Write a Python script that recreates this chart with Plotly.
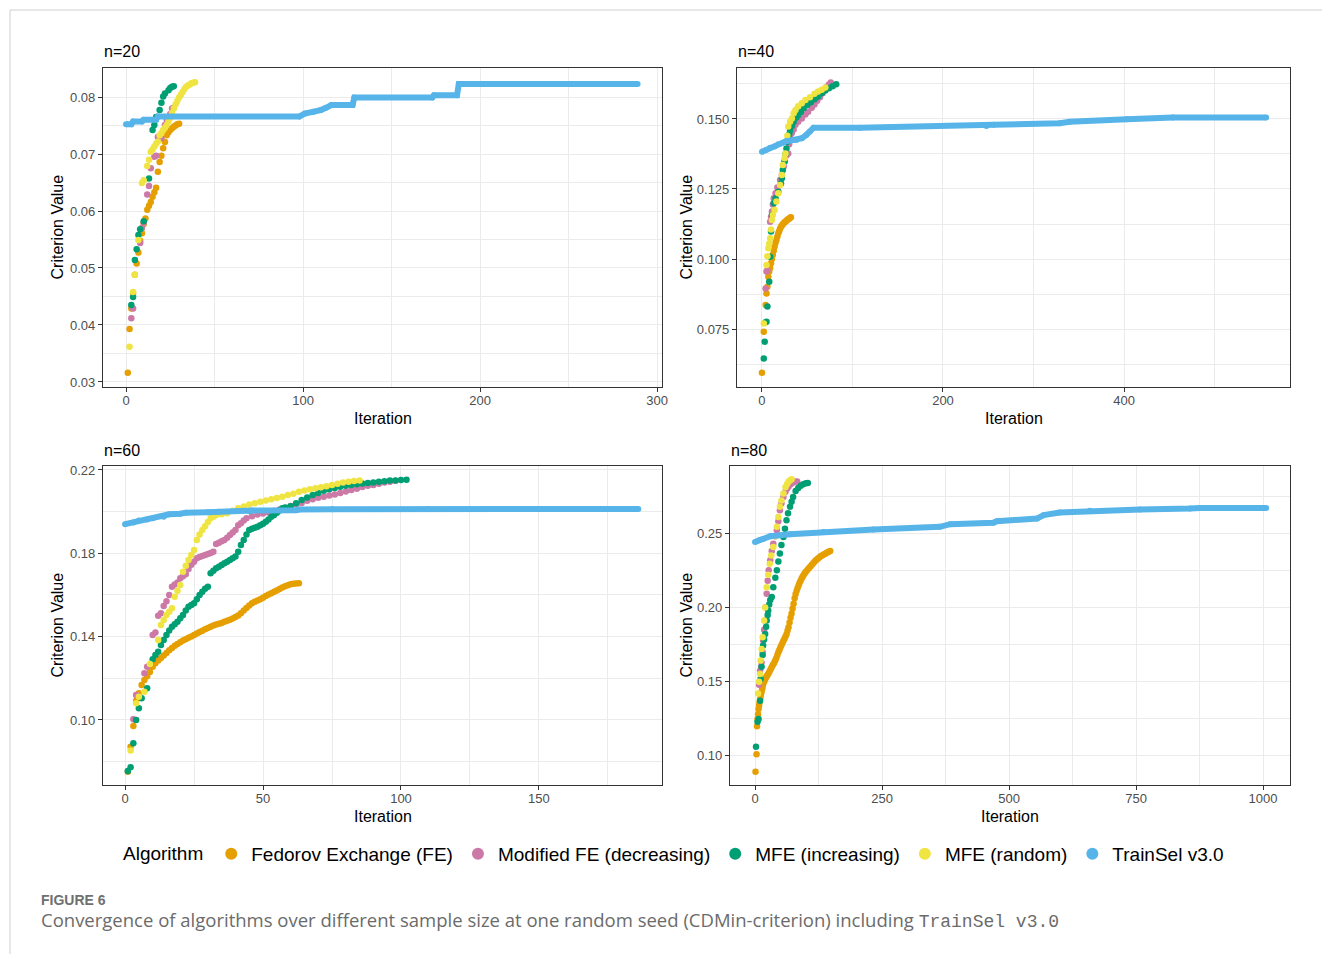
import plotly.graph_objects as go

W, H = 1322, 954

# ------------------------------------------------------------------ data
ALGOS = ["Fedorov Exchange (FE)", "Modified FE (decreasing)", "MFE (increasing)",
         "MFE (random)", "TrainSel v3.0"]
COLORS = ["#E69F00", "#CC79A7", "#009E73", "#F0E442", "#56B4E9"]

# ---------- n = 20
fe20_it = [1, 2, 3, 4, 5, 6, 7, 8, 9, 10, 11, 12, 13, 14, 15, 16, 17, 18, 19, 20, 21, 22, 23,
           24, 25, 26, 27, 28, 29, 30]
fe20_v = [0.0316, 0.0393, 0.0429, 0.0456, 0.0488, 0.0508, 0.0527, 0.0548, 0.0561, 0.0577,
          0.0587, 0.0602, 0.0609, 0.0616, 0.0625, 0.0633, 0.0641, 0.0669, 0.0686, 0.0697,
          0.0710, 0.0721, 0.0733, 0.0738, 0.0742, 0.0745, 0.0748, 0.0750, 0.0752, 0.0753]
mfd20_it = [3, 4, 8, 9, 10, 12, 13, 14, 16, 17, 18, 20, 22, 23, 25, 26, 27]
mfd20_v = [0.0412, 0.0429, 0.0544, 0.0570, 0.0580, 0.0629, 0.0644, 0.0675, 0.0695, 0.0697,
           0.0730, 0.0727, 0.0751, 0.0760, 0.0770, 0.0780, 0.0781]
mfi20_it = [3, 4, 5, 6, 7, 8, 10, 13, 15, 16, 17, 19, 20, 21, 22, 24, 25, 26, 27]
mfi20_v = [0.0435, 0.0449, 0.0514, 0.0533, 0.0558, 0.0568, 0.0582, 0.0657, 0.0742, 0.0751,
           0.0765, 0.0777, 0.0790, 0.0801, 0.0806, 0.0812, 0.0816, 0.0818, 0.0819]
mfr20_it = [2, 4, 5, 7, 9, 10, 12, 13, 14, 15, 16, 17, 18, 19, 20, 21, 22, 23, 24, 25, 26,
            27, 28, 29, 30, 31, 32, 33, 34, 35, 36, 37, 38, 39]
mfr20_v = [0.0362, 0.0458, 0.0488, 0.0549, 0.0649, 0.0654, 0.0679, 0.0690, 0.0704, 0.0708,
           0.0713, 0.0718, 0.0722, 0.0733, 0.0737, 0.0742, 0.0746, 0.0751, 0.0757, 0.0763,
           0.0772, 0.0780, 0.0787, 0.0793, 0.0799, 0.0804, 0.0809, 0.0814, 0.0818, 0.0820,
           0.0822, 0.0824, 0.0825, 0.0826]
ts20_it = [0, 3, 4, 9, 10, 17, 18, 98, 101, 106, 110, 113, 116, 128, 129, 173, 174, 187, 188, 289]
ts20_v = [0.0752, 0.0752, 0.0757, 0.0757, 0.0760, 0.0760, 0.0766, 0.0766, 0.0771, 0.0774,
          0.0777, 0.0781, 0.0786, 0.0786, 0.0799, 0.0799, 0.0803, 0.0803, 0.0823, 0.0823]

# ---------- n = 40
fe40_it = [0, 2, 3, 4, 5, 6, 7, 8, 9, 10, 11, 12, 13, 14, 15, 16, 17, 18, 19, 20, 21, 22, 23,
           24, 25, 26, 27, 28, 29, 30, 31, 32]
fe40_v = [0.0594, 0.0740, 0.0772, 0.0836, 0.0877, 0.0901, 0.0937, 0.0955, 0.0968, 0.0985,
          0.1000, 0.1015, 0.1030, 0.1045, 0.1058, 0.1068, 0.1080, 0.1092, 0.1100, 0.1108,
          0.1115, 0.1120, 0.1124, 0.1128, 0.1131, 0.1134, 0.1137, 0.1140, 0.1142, 0.1144,
          0.1147, 0.1149]
mfd40_it = [4, 5, 6, 9, 10, 11, 12, 13, 15, 17, 20, 22, 24, 25, 27, 29, 30, 31, 33, 35, 37,
            40, 44, 48, 51, 55, 58, 61, 64, 67, 70, 72, 74, 76]
mfd40_v = [0.0895, 0.0955, 0.0960, 0.1133, 0.1150, 0.1170, 0.1195, 0.1217, 0.1235, 0.1255,
           0.1282, 0.1300, 0.1330, 0.1350, 0.1370, 0.1377, 0.1410, 0.1437, 0.1450, 0.1462,
           0.1479, 0.1490, 0.1502, 0.1516, 0.1526, 0.1540, 0.1552, 0.1565, 0.1578, 0.1592,
           0.1605, 0.1615, 0.1623, 0.1630]
mfi40_it = [2, 3, 5, 6, 8, 9, 10, 11, 13, 15, 18, 21, 22, 23, 25, 26, 27, 28, 29, 30, 31, 33,
            35, 38, 40, 43, 46, 50, 54, 58, 62, 66, 70, 74, 78, 82]
mfi40_v = [0.0645, 0.0705, 0.0776, 0.0830, 0.0919, 0.1008, 0.1098, 0.1157, 0.1199, 0.1217,
           0.1240, 0.1270, 0.1288, 0.1318, 0.1348, 0.1375, 0.1395, 0.1419, 0.1431, 0.1445,
           0.1458, 0.1475, 0.1490, 0.1505, 0.1514, 0.1525, 0.1538, 0.1550, 0.1560, 0.1570,
           0.1580, 0.1592, 0.1602, 0.1610, 0.1617, 0.1624]
mfr40_it = [2, 5, 6, 7, 8, 9, 10, 11, 12, 14, 16, 18, 20, 22, 23, 25, 26, 28, 29, 31, 33, 35,
            37, 40, 44, 48, 53, 58, 62, 66, 70]
mfr40_v = [0.0770, 0.0979, 0.1010, 0.1038, 0.1055, 0.1074, 0.1105, 0.1139, 0.1157, 0.1175,
           0.1205, 0.1235, 0.1264, 0.1300, 0.1336, 0.1360, 0.1377, 0.1440, 0.1473, 0.1490,
           0.1502, 0.1520, 0.1532, 0.1545, 0.1556, 0.1568, 0.1578, 0.1590, 0.1598, 0.1604,
           0.1612]
ts40_it = [0, 5, 9, 14, 18, 23, 27, 32, 38, 44, 49, 53, 57, 108, 248, 256, 329, 340, 403,
           454, 557]
ts40_v = [0.1383, 0.1390, 0.1397, 0.1402, 0.1410, 0.1415, 0.1421, 0.1423, 0.1425, 0.1431,
          0.1443, 0.1455, 0.1469, 0.1469, 0.1475, 0.1479, 0.1485, 0.1490, 0.1499, 0.1505,
          0.1505]

# ---------- n = 60
fe60_it = list(range(1, 64))
fe60_v = [0.0752, 0.0872, 0.0971, 0.1092, 0.1128, 0.1168, 0.1192, 0.1210, 0.1230, 0.1256,
          0.1272, 0.1285, 0.1298, 0.1310, 0.1322, 0.1335, 0.1346, 0.1356, 0.1365, 0.1373,
          0.1381, 0.1388, 0.1395, 0.1401, 0.1408, 0.1415, 0.1422, 0.1428, 0.1435, 0.1442,
          0.1448, 0.1453, 0.1458, 0.1462, 0.1466, 0.1471, 0.1476, 0.1481, 0.1487, 0.1494,
          0.1502, 0.1512, 0.1525, 0.1538, 0.1550, 0.1560, 0.1568, 0.1574, 0.1579, 0.1587,
          0.1595, 0.1602, 0.1608, 0.1615, 0.1622, 0.1629, 0.1636, 0.1642, 0.1647, 0.1651,
          0.1654, 0.1655, 0.1656]
mfd60_it = [3, 4, 7, 8, 10, 11, 12, 13, 14, 15, 16, 17, 18, 19, 20, 21, 22, 23, 24, 25, 26,
            27, 28, 29, 30, 31, 32, 33, 34, 35, 36, 37, 38, 39, 40, 41, 42, 43, 44, 46, 48,
            50, 52, 54, 56, 58, 60, 62, 64, 66, 68, 70, 72, 74, 76, 78, 80, 82, 84, 86, 88,
            90, 92, 94, 96, 98]
mfd60_v = [0.1003, 0.1120, 0.1224, 0.1256, 0.1408, 0.1420, 0.1500, 0.1512, 0.1547, 0.1570,
           0.1600, 0.1640, 0.1650, 0.1660, 0.1680, 0.1690, 0.1700, 0.1725, 0.1745, 0.1760,
           0.1776, 0.1782, 0.1787, 0.1792, 0.1797, 0.1802, 0.1808, 0.1845, 0.1851, 0.1858,
           0.1864, 0.1875, 0.1888, 0.1900, 0.1912, 0.1935, 0.1944, 0.1958, 0.1968, 0.1978,
           0.1986, 0.1991, 0.1996, 0.2004, 0.2010, 0.2018, 0.2027, 0.2035, 0.2042, 0.2052,
           0.2060, 0.2067, 0.2072, 0.2077, 0.2082, 0.2090, 0.2097, 0.2104, 0.2110, 0.2118,
           0.2124, 0.2128, 0.2134, 0.2140, 0.2144, 0.2148]
mfi60_it = [1, 2, 3, 4, 5, 6, 8, 10, 11, 12, 13, 14, 15, 16, 17, 18, 19, 20, 21, 22, 23, 24,
            25, 26, 27, 28, 29, 30, 31, 32, 33, 34, 35, 36, 37, 38, 39, 40, 41, 42, 43, 44,
            45, 46, 47, 48, 49, 50, 51, 52, 53, 54, 55, 56, 57, 58, 60, 62, 64, 66, 68, 70,
            72, 74, 76, 78, 80, 82, 84, 86, 88, 90, 92, 94, 96, 98, 100, 102]
mfi60_v = [0.0755, 0.0773, 0.0888, 0.1000, 0.1056, 0.1104, 0.1152, 0.1291, 0.1312, 0.1328,
           0.1360, 0.1384, 0.1408, 0.1430, 0.1448, 0.1460, 0.1472, 0.1488, 0.1504, 0.1525,
           0.1544, 0.1552, 0.1560, 0.1580, 0.1600, 0.1615, 0.1630, 0.1640, 0.1704, 0.1716,
           0.1728, 0.1736, 0.1744, 0.1752, 0.1760, 0.1768, 0.1776, 0.1785, 0.1808, 0.1840,
           0.1864, 0.1890, 0.1912, 0.1918, 0.1923, 0.1928, 0.1935, 0.1942, 0.1952, 0.1962,
           0.1975, 0.1984, 0.1995, 0.2005, 0.2016, 0.2020, 0.2026, 0.2040, 0.2056, 0.2068,
           0.2080, 0.2090, 0.2100, 0.2108, 0.2114, 0.2120, 0.2124, 0.2128, 0.2132, 0.2135,
           0.2138, 0.2140, 0.2143, 0.2146, 0.2149, 0.2150, 0.2152, 0.2153]
mfr60_it = [2, 4, 5, 7, 9, 12, 13, 14, 15, 16, 17, 18, 19, 20, 21, 22, 23, 24, 25, 26, 27,
            28, 29, 30, 31, 32, 33, 35, 37, 39, 41, 43, 45, 47, 49, 51, 53, 55, 57, 59, 61,
            63, 65, 67, 69, 71, 73, 75, 77, 79, 81, 83, 85]
mfr60_v = [0.0853, 0.1080, 0.1112, 0.1136, 0.1269, 0.1384, 0.1456, 0.1480, 0.1504, 0.1520,
           0.1536, 0.1592, 0.1620, 0.1648, 0.1712, 0.1740, 0.1768, 0.1792, 0.1816, 0.1864,
           0.1890, 0.1912, 0.1930, 0.1950, 0.1968, 0.1976, 0.1984, 0.1988, 0.1992, 0.2004,
           0.2016, 0.2025, 0.2034, 0.2040, 0.2048, 0.2054, 0.2060, 0.2066, 0.2072, 0.2080,
           0.2086, 0.2096, 0.2102, 0.2107, 0.2112, 0.2117, 0.2122, 0.2128, 0.2134, 0.2140,
           0.2144, 0.2147, 0.2149]
ts60_it = [0, 3, 5, 8, 10, 14, 16, 20, 22, 30, 34, 45, 46, 62, 63, 75, 110, 186]
ts60_v = [0.1940, 0.1948, 0.1958, 0.1962, 0.1968, 0.1975, 0.1987, 0.1990, 0.1995, 0.1997,
          0.2000, 0.2002, 0.2005, 0.2007, 0.2010, 0.2011, 0.2013, 0.2013]

# ---------- n = 80
fe80_it = [1, 3, 4, 5, 6, 7, 8, 9, 10, 11, 12, 13, 14, 15, 16, 18, 20, 22, 24, 26, 28, 30,
           32, 34, 36, 38, 40, 42, 44, 46, 48, 50, 52, 54, 56, 58, 60, 62, 64, 66, 68, 70,
           72, 74, 76, 78, 80, 82, 84, 86, 88, 90, 92, 94, 96, 98, 100, 103, 106, 109, 112,
           115, 118, 121, 124, 127, 130, 133, 136, 139, 142, 145, 148]
fe80_v = [0.0894, 0.1011, 0.1200, 0.1248, 0.1280, 0.1316, 0.1340, 0.1362, 0.1380, 0.1398,
          0.1417, 0.1432, 0.1450, 0.1466, 0.1484, 0.1500, 0.1514, 0.1530, 0.1541, 0.1552,
          0.1565, 0.1578, 0.1592, 0.1605, 0.1618, 0.1630, 0.1645, 0.1660, 0.1680, 0.1698,
          0.1714, 0.1730, 0.1745, 0.1760, 0.1775, 0.1790, 0.1805, 0.1820, 0.1843, 0.1867,
          0.1898, 0.1930, 0.1960, 0.1993, 0.2025, 0.2062, 0.2090, 0.2112, 0.2132, 0.2150,
          0.2168, 0.2182, 0.2196, 0.2208, 0.2220, 0.2230, 0.2240, 0.2252, 0.2264, 0.2276,
          0.2288, 0.2300, 0.2312, 0.2322, 0.2330, 0.2338, 0.2346, 0.2352, 0.2358, 0.2364,
          0.2370, 0.2375, 0.2380]
mfd80_it = [8, 10, 12, 13, 15, 16, 18, 20, 21, 23, 25, 27, 30, 33, 36, 40, 43, 46, 49, 52,
            56, 60, 63, 66, 70, 74, 79, 83]
mfd80_v = [0.1480, 0.1574, 0.1600, 0.1630, 0.1700, 0.1777, 0.1850, 0.1912, 0.2002, 0.2093,
           0.2180, 0.2250, 0.2318, 0.2380, 0.2430, 0.2480, 0.2520, 0.2580, 0.2655, 0.2700,
           0.2745, 0.2780, 0.2800, 0.2813, 0.2830, 0.2840, 0.2847, 0.2848]
mfi80_it = [2, 5, 7, 10, 11, 13, 15, 16, 18, 20, 22, 23, 25, 26, 28, 30, 33, 36, 40, 43, 46,
            49, 52, 56, 59, 62, 65, 69, 72, 75, 80, 85, 90, 95, 100, 104]
mfi80_v = [0.1061, 0.1230, 0.1248, 0.1372, 0.1518, 0.1600, 0.1680, 0.1743, 0.1785, 0.1822,
           0.1870, 0.1912, 0.1950, 0.1980, 0.2020, 0.2050, 0.2070, 0.2137, 0.2200, 0.2250,
           0.2310, 0.2363, 0.2420, 0.2475, 0.2530, 0.2588, 0.2635, 0.2678, 0.2712, 0.2745,
           0.2785, 0.2805, 0.2820, 0.2830, 0.2836, 0.2838]
mfr80_it = [6, 8, 10, 11, 13, 15, 18, 20, 23, 26, 29, 32, 36, 40, 43, 46, 49, 52, 56, 60,
            63, 66, 69, 72]
mfr80_v = [0.1420, 0.1500, 0.1552, 0.1642, 0.1720, 0.1800, 0.1912, 0.2000, 0.2137, 0.2220,
           0.2295, 0.2350, 0.2408, 0.2480, 0.2543, 0.2610, 0.2678, 0.2720, 0.2768, 0.2810,
           0.2830, 0.2847, 0.2857, 0.2863]
ts80_it = [0, 8, 16, 30, 69, 135, 233, 364, 384, 469, 476, 555, 568, 600, 659, 758, 856,
           876, 1006]
ts80_v = [0.2441, 0.2452, 0.2462, 0.2480, 0.2493, 0.2509, 0.2525, 0.2543, 0.2561, 0.2570,
          0.2581, 0.2599, 0.2622, 0.2640, 0.2651, 0.2660, 0.2667, 0.2670, 0.2670]

PANEL_TITLES = ["n=20", "n=40", "n=60", "n=80"]
PANEL_SERIES = [
    [(fe20_it, fe20_v), (mfd20_it, mfd20_v), (mfi20_it, mfi20_v), (mfr20_it, mfr20_v), (ts20_it, ts20_v)],
    [(fe40_it, fe40_v), (mfd40_it, mfd40_v), (mfi40_it, mfi40_v), (mfr40_it, mfr40_v), (ts40_it, ts40_v)],
    [(fe60_it, fe60_v), (mfd60_it, mfd60_v), (mfi60_it, mfi60_v), (mfr60_it, mfr60_v), (ts60_it, ts60_v)],
    [(fe80_it, fe80_v), (mfd80_it, mfd80_v), (mfi80_it, mfi80_v), (mfr80_it, mfr80_v), (ts80_it, ts80_v)],
]

# ------------------------------------------------------------------ layout geometry (pixels)
PANELS = [  # x0, x1, y0, y1 (pixel box of the panel)
    (103, 662, 68, 387),
    (737, 1290, 68, 387),
    (103, 662, 466, 785),
    (730, 1290, 466, 785),
]
XR = [[-13, 302.8], [-27.6, 583.4], [-8.0, 194.6], [-49.2, 1053]]
YR = [[0.02912, 0.08509], [0.0543, 0.1682], [0.0688, 0.2219], [0.0804, 0.2953]]
XD = [(100, 50), (200, 100), (50, 25), (250, 125)]
YD = [(0.0, 0.01, 0.005, ".2f"), (0.0, 0.025, 0.0125, ".3f"),
      (0.10, 0.04, 0.02, ".2f"), (0.0, 0.05, 0.025, ".2f")]


def fx(p):
    return p / W


def fy(p):
    return 1 - p / H


GRID = "#EBEBEB"
DARK = "#333333"
fig = go.Figure()

for k, series in enumerate(PANEL_SERIES):
    ax = "" if k == 0 else str(k + 1)
    for j, (xs, ys) in enumerate(series):
        if j == 4:
            fig.add_trace(go.Scatter(
                x=xs, y=ys, mode="lines+markers", xaxis="x" + ax, yaxis="y" + ax,
                line=dict(color=COLORS[j], width=6),
                marker=dict(color=COLORS[j], size=6),
                showlegend=False, hoverinfo="skip"))
        else:
            fig.add_trace(go.Scatter(
                x=xs, y=ys, mode="markers", xaxis="x" + ax, yaxis="y" + ax,
                marker=dict(color=COLORS[j], size=6.5, line=dict(width=0)),
                showlegend=False, hoverinfo="skip"))

# legend entries
for j, name in enumerate(ALGOS):
    fig.add_trace(go.Scatter(x=[None], y=[None], mode="markers", name=name,
                             marker=dict(color=COLORS[j], size=7), showlegend=True))

layout = dict(
    width=W, height=H,
    margin=dict(l=0, r=0, t=0, b=0),
    paper_bgcolor="white", plot_bgcolor="white",
    font=dict(family="Liberation Sans, Arial, sans-serif", color="black"),
    showlegend=True,
    legend=dict(orientation="h", x=fx(675), y=fy(854), xanchor="center", yanchor="middle",
                font=dict(size=19, color="black"),
                title=dict(text="Algorithm", font=dict(size=19, color="black"), side="left"),
                itemsizing="constant", bgcolor="rgba(0,0,0,0)"),
)

annotations = []
for k in range(4):
    x0, x1, y0, y1 = PANELS[k]
    sfx = "" if k == 0 else str(k + 1)
    layout["xaxis" + sfx] = dict(
        domain=[fx(x0), fx(x1)], range=XR[k], anchor="y" + sfx,
        tick0=0, dtick=XD[k][0],
        minor=dict(dtick=XD[k][1], tick0=0, showgrid=True, gridcolor=GRID, gridwidth=0.55),
        showgrid=True, gridcolor=GRID, gridwidth=1.1, zeroline=False,
        showline=True, mirror=True, linecolor=DARK, linewidth=1.1,
        ticks="outside", ticklen=4, tickcolor=DARK, tickwidth=1.1,
        ticklabelstandoff=-3,
        tickfont=dict(size=13, color="#4D4D4D"), automargin=False)
    layout["yaxis" + sfx] = dict(
        domain=[fy(y1), fy(y0)], range=YR[k], anchor="x" + sfx,
        tick0=YD[k][0], dtick=YD[k][1], tickformat=YD[k][3],
        minor=dict(dtick=YD[k][2], tick0=YD[k][0], showgrid=True, gridcolor=GRID,
                   gridwidth=0.55),
        showgrid=True, gridcolor=GRID, gridwidth=1.1, zeroline=False,
        showline=True, mirror=True, linecolor=DARK, linewidth=1.1,
        ticks="outside", ticklen=4, tickcolor=DARK, tickwidth=1.1,
        tickfont=dict(size=13, color="#4D4D4D"), automargin=False)
    # panel title
    annotations.append(dict(text=PANEL_TITLES[k], x=fx(x0 - 1), y=fy(y0 - 16), xref="paper",
                            yref="paper", xanchor="left", yanchor="middle", showarrow=False,
                            font=dict(size=16, color="black")))
    # x title
    annotations.append(dict(text="Iteration", x=fx((x0 + x1) / 2), y=fy(y1 + 31), xref="paper",
                            yref="paper", xanchor="center", yanchor="middle", showarrow=False,
                            font=dict(size=16, color="black")))
    # y title
    annotations.append(dict(text="Criterion Value", x=fx(57 if k % 2 == 0 else 686),
                            y=fy((y0 + y1) / 2), xref="paper", yref="paper",
                            xanchor="center", yanchor="middle", textangle=-90,
                            showarrow=False, font=dict(size=16, color="black")))

annotations.append(dict(text="<b>FIGURE 6</b>", x=fx(39), y=fy(900), xref="paper", yref="paper",
                        xanchor="left", yanchor="middle", showarrow=False,
                        font=dict(size=14, color="#707070")))
annotations.append(dict(
    text='Convergence of algorithms over different sample size at one random seed '
         '(CDMin-criterion) including '
         '<span style="font-family:Liberation Mono, DejaVu Sans Mono, monospace;'
         'font-size:18px">TrainSel v3.0</span>',
    x=fx(39), y=fy(919), xref="paper", yref="paper", xanchor="left", yanchor="middle",
    showarrow=False, font=dict(family="Open Sans, Noto Sans, sans-serif", size=18.5,
                               color="#6B6B6B")))

layout["annotations"] = annotations
layout["shapes"] = [
    dict(type="line", xref="paper", yref="paper", x0=fx(10), x1=1, y0=fy(10), y1=fy(10),
         line=dict(color="#D0D0D0", width=1)),
    dict(type="line", xref="paper", yref="paper", x0=fx(10), x1=fx(10), y0=0, y1=fy(10),
         line=dict(color="#D0D0D0", width=1)),
]

fig.update_layout(**layout)
fig.write_html("out.html")
